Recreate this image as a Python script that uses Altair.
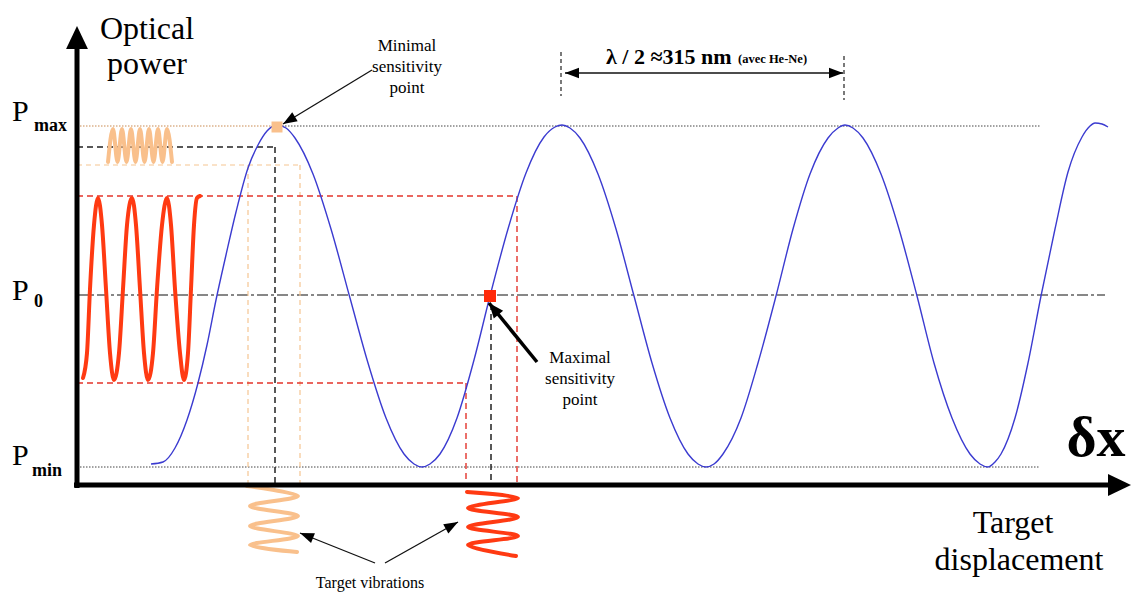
import math
import altair as alt
import pandas as pd

W, H = 1133, 594
SERIF = "Liberation Serif"

# ---------------- data (diagram units: x to the right, y downward) ----------------
# interference curve (optical power vs target displacement)
curve_x = [151, 163, 175, 187, 198, 207, 216, 226, 236, 248, 258, 267, 277,
           286, 295, 313, 331, 350, 368, 386, 404, 414, 422,
           430, 440, 457, 474, 490, 508, 526, 544, 555, 562,
           570, 580, 598, 616, 634, 652, 670, 688, 698, 706,
           714, 723, 741, 758, 776, 793, 810, 828, 838, 845,
           853, 863, 881, 899, 917, 934, 952, 970, 980, 988,
           995, 1001, 1015, 1028, 1041, 1055, 1068, 1082, 1090, 1095, 1102, 1108]
curve_y = [464, 462, 448, 420, 383, 345, 300, 255, 212, 168, 145, 131, 125,
           128, 138, 174, 229, 298, 363, 418, 454, 464, 467,
           464, 454, 418, 360, 296, 229, 173, 137, 127, 125,
           128, 138, 174, 229, 296, 363, 418, 454, 464, 467,
           464, 454, 418, 363, 296, 229, 174, 138, 128, 125,
           128, 138, 174, 229, 296, 363, 418, 454, 464, 467,
           462, 454, 418, 363, 296, 229, 172, 137, 126, 123, 124, 127]

# output signal at maximal sensitivity point (left, red)
red_out_x = [83, 87, 90, 94, 98, 102, 106, 110, 114, 119, 123, 127, 132, 136, 140, 144,
             148, 153, 157, 162, 167, 171, 175, 180, 184, 188, 191, 194, 197, 200]
red_out_y = [378, 353, 289, 225, 198, 225, 289, 353, 380, 353, 289, 225, 198, 225, 289, 353,
             380, 353, 289, 225, 198, 225, 289, 353, 380, 353, 289, 225, 198, 196]

# output signal at minimal sensitivity point (left, peach)
or_out_x = [108, 113, 117.5, 122, 126.5, 131, 135.5, 140, 144.5, 149, 153.5, 158, 162.5, 167, 172]
or_out_y = [162, 129, 162, 129, 162, 129, 162, 129, 162, 129, 162, 129, 162, 129, 162]

# target vibrations (below the axis)
or_vib_x = [247, 298, 250, 298, 250, 298, 250, 297]
or_vib_y = [486, 496, 506, 516, 526, 536, 545, 552]
red_vib_x = [467, 518, 468, 518, 468, 518, 468, 516]
red_vib_y = [492, 498, 508, 517, 527, 536, 545, 556]

# reference levels and projections (x1, y1, x2, y2)
axes_segs = [(77, 488, 77, 44), (74, 485, 1108, 485)]
dotted_gray = [(282, 126, 1040, 126), (80, 467, 1040, 467)]
dotted_orange = [(77, 126, 272, 126)]
dashdot = [(77, 295, 1105, 295)]
dashed_black = [(77, 147, 275, 147), (275, 147, 275, 485), (491, 304, 491, 485)]
dashed_red = [(77, 196, 517, 196), (517, 196, 517, 485), (77, 383, 466, 383), (466, 383, 466, 485)]
dashed_orange = [(77, 165, 300, 165), (300, 165, 300, 485), (248, 165, 248, 485)]
dashed_lambda = [(561, 52, 561, 96), (844, 56, 844, 100)]

# arrows (from_x, from_y, tip_x, tip_y)
thin_arrows = [(372, 70, 283, 124), (375, 563, 300, 533), (385, 563, 458, 522),
               (700, 73, 565, 73), (700, 73, 843, 73)]
thick_arrows = [(537, 362, 489, 303)]

# special points
min_point = [(277, 127)]
max_point = [(490, 296)]

# texts (x, y, text)
big_labels = [(147, 39, "Optical"), (147, 74, "power"), (1013, 533, "Target"), (1019, 570, "displacement")]
p_labels = [(12, 121, "P"), (12, 300, "P"), (12, 465, "P")]
p_subs = [(34, 131, "max"), (34, 307, "0"), (32, 476, "min")]
small_labels = [(407, 51, "Minimal"), (407, 72, "sensitivity"), (407, 93, "point"),
                (580, 363, "Maximal"), (580, 384, "sensitivity"), (580, 405, "point")]
bottom_label = [(370, 588, "Target vibrations")]

# ---------------- helpers ----------------
xs = alt.Scale(domain=[0, W], nice=False, zero=False)
ys = alt.Scale(domain=[0, H], nice=False, zero=False, reverse=True)


def X(f="x"):
    return alt.X(f"{f}:Q", scale=xs, axis=None)


def Y(f="y"):
    return alt.Y(f"{f}:Q", scale=ys, axis=None)


def seg_layer(rows, **mark):
    df = pd.DataFrame(rows, columns=["x", "y", "x2", "y2"])
    return alt.Chart(df).mark_rule(**mark).encode(x=X(), y=Y(), x2="x2:Q", y2="y2:Q")


def path_layer(px, py, interp, **mark):
    df = pd.DataFrame({"x": px, "y": py, "i": list(range(len(px)))})
    return alt.Chart(df).mark_line(interpolate=interp, **mark).encode(
        x=X(), y=Y(), order=alt.Order("i:Q"))


def text_layer(rows, **mark):
    df = pd.DataFrame(rows, columns=["x", "y", "t"])
    return alt.Chart(df).mark_text(baseline="alphabetic", font=SERIF, color="black", **mark).encode(
        x=X(), y=Y(), text="t:N")


def head_layer(rows, shape, size):
    recs = []
    for fx, fy, tx, ty in rows:
        ang = math.degrees(math.atan2(tx - fx, -(ty - fy))) % 360
        recs.append({"x": tx, "y": ty, "a": ang})
    df = pd.DataFrame(recs)
    return alt.Chart(df).mark_point(shape=shape, size=size, filled=True, opacity=1,
                                    color="black", strokeWidth=0).encode(
        x=X(), y=Y(), angle=alt.Angle("a:Q", scale=None))


def arrow_lines(rows, **mark):
    return seg_layer([(a, b, c, d) for a, b, c, d in rows], **mark)


axis_heads = [(77, 60, 77, 26), (1100, 485, 1131, 485)]

layers = [
    seg_layer(dotted_gray, color="#444444", strokeWidth=1, strokeDash=[1.5, 1.5]),
    seg_layer(dotted_orange, color="#c98a50", strokeWidth=1, strokeDash=[1.5, 1.5]),
    seg_layer(dashdot, color="#111111", strokeWidth=1.2, strokeDash=[11, 3, 3, 3]),
    seg_layer(dashed_orange, color="#f6c592", strokeWidth=1.2, strokeDash=[5, 4]),
    seg_layer(dashed_red, color="#e3342b", strokeWidth=1.4, strokeDash=[6, 4]),
    seg_layer(dashed_black, color="#222222", strokeWidth=1.5, strokeDash=[6, 4]),
    seg_layer(dashed_lambda, color="#222222", strokeWidth=1.2, strokeDash=[4, 3]),
    path_layer(curve_x, curve_y, "monotone", color="#3b3bd0", strokeWidth=1.4),
    path_layer(red_out_x, red_out_y, "monotone", color="#ff3a12", strokeWidth=4,
               strokeJoin="round", strokeCap="round"),
    path_layer(or_out_x, or_out_y, "monotone", color="#f9c08c", strokeWidth=4,
               strokeJoin="round", strokeCap="round"),
    path_layer(or_vib_x, or_vib_y, "catmull-rom", color="#f9c08c", strokeWidth=4,
               strokeJoin="round", strokeCap="round"),
    path_layer(red_vib_x, red_vib_y, "catmull-rom", color="#ff3a12", strokeWidth=4,
               strokeJoin="round", strokeCap="round"),
    alt.Chart(pd.DataFrame(min_point, columns=["x", "y"])).mark_square(
        size=121, color="#f9c08c", opacity=1).encode(x=X(), y=Y()),
    alt.Chart(pd.DataFrame(max_point, columns=["x", "y"])).mark_square(
        size=144, color="#ff2a0a", opacity=1).encode(x=X(), y=Y()),
    seg_layer(axes_segs, color="black", strokeWidth=5),
    head_layer(axis_heads, "M0,0L-0.95,2L0.95,2Z", 529),
    arrow_lines(thin_arrows, color="#111111", strokeWidth=1.3),
    head_layer(thin_arrows, "M0,0L-0.75,2L0.75,2Z", 196),
    arrow_lines(thick_arrows, color="black", strokeWidth=3.5),
    head_layer(thick_arrows, "M0,0L-0.8,2L0.8,2Z", 225),
    text_layer(big_labels, align="center", fontSize=32),
    text_layer(p_labels, align="left", fontSize=30),
    text_layer(p_subs, align="left", fontSize=18, fontWeight="bold"),
    text_layer(small_labels, align="center", fontSize=17),
    text_layer(bottom_label, align="center", fontSize=16),
    text_layer([(1096, 456, "δx")], align="center", fontSize=58, fontWeight="bold"),
    text_layer([(606, 64, "λ / 2 ≈315 nm")], align="left", fontSize=22, fontWeight="bold"),
    text_layer([(738, 63, "(avec He-Ne)")], align="left", fontSize=12.5, fontWeight="bold"),
]

chart = alt.layer(*layers).properties(
    width=W, height=H, padding=0, autosize=alt.AutoSizeParams(type="none"),
    background="white",
).configure_view(stroke=None)

chart.save("out.html", embed_options={"renderer": "svg", "actions": False})
